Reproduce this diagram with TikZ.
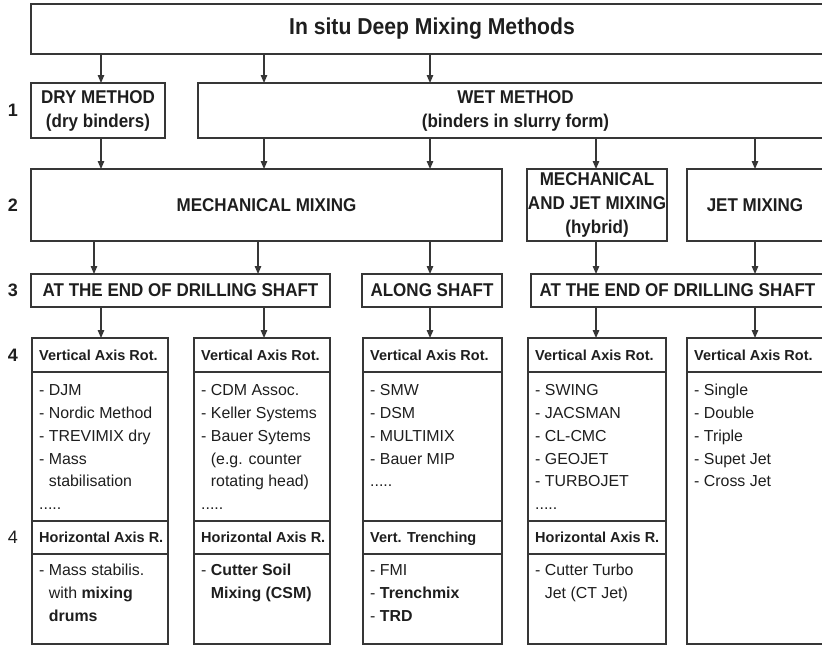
\documentclass[tikz,border=0pt]{standalone}
\usepackage{fontspec}
\setmainfont{Liberation Sans}
\newfontfamily\hdfont[FakeStretch=0.92]{Liberation Sans}
\usetikzlibrary{arrows.meta}
\definecolor{linec}{HTML}{363636}
\definecolor{txt}{HTML}{1E1E1E}
\newcommand{\mydots}{.....}
\begin{document}
\begin{tikzpicture}[x=1pt,y=-1pt,
  box/.style={draw=linec,line width=1.8pt,inner sep=0pt,outer sep=0pt,anchor=north west,text=txt},
  arr/.style={draw=linec,line width=1.3pt,-{Triangle[length=8pt,width=6.5pt]}},
  hd/.style={font=\hdfont\fontsize{18.5}{24}\selectfont\bfseries,align=center},
  ttl/.style={font=\hdfont\fontsize{23}{24}\selectfont\bfseries},
  lvl/.style={font=\fontsize{18}{20}\selectfont\bfseries,text=txt,inner sep=0pt},
  lvlr/.style={font=\fontsize{18}{20}\selectfont,text=txt,inner sep=0pt},
  sub/.style={font=\fontsize{14.5}{16}\selectfont\bfseries,text=txt,inner sep=0pt,anchor=base west},
  item/.style={font=\fontsize{15.9}{18}\selectfont,text=txt,inner sep=0pt,anchor=base west}]
\useasboundingbox (0,0) rectangle (822,645);
\clip (0,0) rectangle (822,645);
% column x positions for connectors
\coordinate (xa) at (101,0);
\coordinate (xb) at (264,0);
\coordinate (xc) at (430,0);
\coordinate (xd) at (596,0);
\coordinate (xe) at (755,0);
\coordinate (xf) at (94,0);
\coordinate (xg) at (258,0);
% top
\node[box,ttl,minimum width=802pt,minimum height=50pt] (top) at (31,4) {In situ Deep Mixing Methods};
% level 1
\node[box,hd,minimum width=134pt,minimum height=55pt] (dry) at (31,83) {DRY METHOD\\(dry binders)};
\node[box,hd,minimum width=635pt,minimum height=55pt] (wet) at (198,83) {WET METHOD\\(binders in slurry form)};
% level 2
\node[box,hd,minimum width=471pt,minimum height=72pt] (mech) at (31,169) {MECHANICAL MIXING};
\node[box,hd,minimum width=140pt,minimum height=72pt] (hyb) at (527,169) {MECHANICAL\\AND JET MIXING\\(hybrid)};
\node[box,hd,minimum width=136pt,minimum height=72pt] (jet) at (687,169) {JET MIXING};
% level 3
\node[box,hd,minimum width=299pt,minimum height=33pt] (endA) at (31,274) {AT THE END OF DRILLING SHAFT};
\node[box,hd,minimum width=140pt,minimum height=33pt] (along) at (362,274) {ALONG SHAFT};
\node[box,hd,minimum width=293pt,minimum height=33pt] (endB) at (531,274) {AT THE END OF DRILLING SHAFT};
% level labels
\node[lvl] (l1) at (13,110) {1};
\node[lvl] (l2) at (13,205) {2};
\node[lvl] (l3) at (13,290) {3};
\node[lvl] (l4) at (13,355) {4};
\node[lvlr] (l4b) at (13,537) {4};
% level 4 boxes
\node[box,minimum width=136pt,minimum height=34pt] (c1h) at (32,338) {};
\node[box,minimum width=136pt,minimum height=149pt] (c1l) at (32,372) {};
\node[box,minimum width=136pt,minimum height=33pt] (c1h2) at (32,521) {};
\node[box,minimum width=136pt,minimum height=90pt] (c1l2) at (32,554) {};
\node[box,minimum width=136pt,minimum height=34pt] (c2h) at (194,338) {};
\node[box,minimum width=136pt,minimum height=149pt] (c2l) at (194,372) {};
\node[box,minimum width=136pt,minimum height=33pt] (c2h2) at (194,521) {};
\node[box,minimum width=136pt,minimum height=90pt] (c2l2) at (194,554) {};
\node[box,minimum width=139pt,minimum height=34pt] (c3h) at (363,338) {};
\node[box,minimum width=139pt,minimum height=149pt] (c3l) at (363,372) {};
\node[box,minimum width=139pt,minimum height=33pt] (c3h2) at (363,521) {};
\node[box,minimum width=139pt,minimum height=90pt] (c3l2) at (363,554) {};
\node[box,minimum width=138pt,minimum height=34pt] (c4h) at (528,338) {};
\node[box,minimum width=138pt,minimum height=149pt] (c4l) at (528,372) {};
\node[box,minimum width=138pt,minimum height=33pt] (c4h2) at (528,521) {};
\node[box,minimum width=138pt,minimum height=90pt] (c4l2) at (528,554) {};
\node[box,minimum width=140pt,minimum height=34pt] (c5h) at (687,338) {};
\node[box,minimum width=140pt,minimum height=272pt] (c5l) at (687,372) {};
% headers
\node[sub] (t1h) at (39,360.2) {Vertical Axis Rot.};
\node[sub] (t2h) at (201,360.2) {Vertical Axis Rot.};
\node[sub] (t3h) at (370,360.2) {Vertical Axis Rot.};
\node[sub] (t4h) at (535,360.2) {Vertical Axis Rot.};
\node[sub] (t5h) at (694,360.2) {Vertical Axis Rot.};
\node[sub] (t1h2) at (39,542.2) {Horizontal Axis R.};
\node[sub] (t2h2) at (201,542.2) {Horizontal Axis R.};
\node[sub] (t3h2) at (370,542.2) {Vert. Trenching};
\node[sub] (t4h2) at (535,542.2) {Horizontal Axis R.};
% items
\foreach \t [count=\i] in {- DJM,- Nordic Method,- TREVIMIX dry,- Mass,\phantom{- }stabilisation,\mydots}
  \node[item] (a\i) at (39,395.7+22.8*\i-22.8) {\t};
\foreach \t [count=\i] in {- CDM Assoc.,- Keller Systems,- Bauer Sytems,\phantom{- }(e.g. counter,\phantom{- }rotating head),\mydots}
  \node[item] (b\i) at (201,395.7+22.8*\i-22.8) {\t};
\foreach \t [count=\i] in {- SMW,- DSM,- MULTIMIX,- Bauer MIP,\mydots}
  \node[item] (c\i) at (370,395.7+22.8*\i-22.8) {\t};
\foreach \t [count=\i] in {- SWING,- JACSMAN,- CL-CMC,- GEOJET,- TURBOJET,\mydots}
  \node[item] (d\i) at (535,395.7+22.8*\i-22.8) {\t};
\foreach \t [count=\i] in {- Single,- Double,- Triple,- Supet Jet,- Cross Jet}
  \node[item] (e\i) at (694,395.7+22.8*\i-22.8) {\t};
\foreach \t [count=\i] in {- Mass stabilis.,\phantom{- }with \textbf{mixing},\phantom{- }\textbf{drums}}
  \node[item] (f\i) at (39,575.7+22.8*\i-22.8) {\t};
\foreach \t [count=\i] in {- \textbf{Cutter Soil},\phantom{- }\textbf{Mixing (CSM)}}
  \node[item] (g\i) at (201,575.7+22.8*\i-22.8) {\t};
\foreach \t [count=\i] in {- FMI,- \textbf{Trenchmix},- \textbf{TRD}}
  \node[item] (h\i) at (370,575.7+22.8*\i-22.8) {\t};
\foreach \t [count=\i] in {- Cutter Turbo,\phantom{- }Jet (CT Jet)}
  \node[item] (k\i) at (535,575.7+22.8*\i-22.8) {\t};
% connectors
\draw[arr] (top.south -| xa) -- (dry.north -| xa);
\draw[arr] (top.south -| xb) -- (wet.north -| xb);
\draw[arr] (top.south -| xc) -- (wet.north -| xc);
\draw[arr] (dry.south -| xa) -- (mech.north -| xa);
\draw[arr] (wet.south -| xb) -- (mech.north -| xb);
\draw[arr] (wet.south -| xc) -- (mech.north -| xc);
\draw[arr] (wet.south -| xd) -- (hyb.north -| xd);
\draw[arr] (wet.south -| xe) -- (jet.north -| xe);
\draw[arr] (mech.south -| xf) -- (endA.north -| xf);
\draw[arr] (mech.south -| xg) -- (endA.north -| xg);
\draw[arr] (mech.south -| xc) -- (along.north -| xc);
\draw[arr] (hyb.south -| xd) -- (endB.north -| xd);
\draw[arr] (jet.south -| xe) -- (endB.north -| xe);
\draw[arr] (endA.south -| xa) -- (c1h.north -| xa);
\draw[arr] (endA.south -| xb) -- (c2h.north -| xb);
\draw[arr] (along.south -| xc) -- (c3h.north -| xc);
\draw[arr] (endB.south -| xd) -- (c4h.north -| xd);
\draw[arr] (endB.south -| xe) -- (c5h.north -| xe);
\end{tikzpicture}
\end{document}
